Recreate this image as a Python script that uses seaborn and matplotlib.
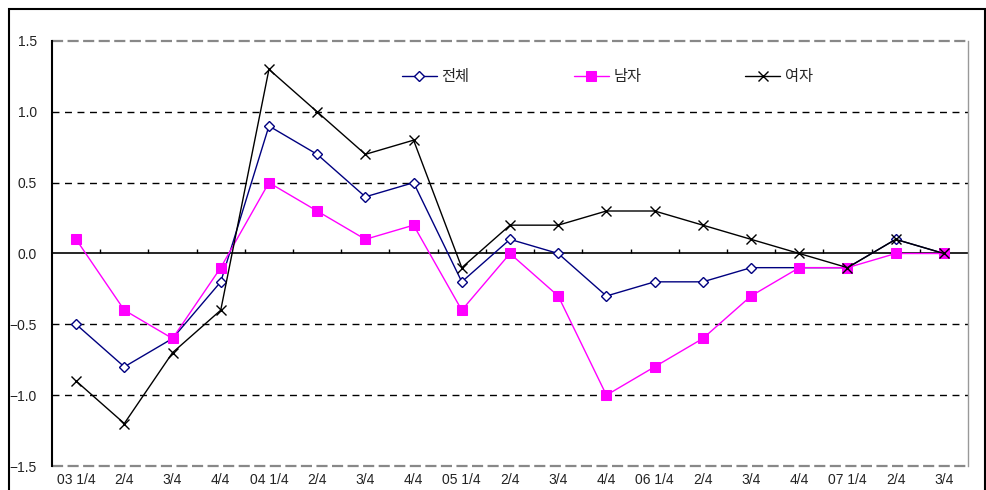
import numpy as np
import pandas as pd
import matplotlib
matplotlib.use("Agg")
import matplotlib.pyplot as plt
from matplotlib.patches import Rectangle
import seaborn as sns

categories = ["03 1/4", "2/4", "3/4", "4/4", "04 1/4", "2/4", "3/4", "4/4",
              "05 1/4", "2/4", "3/4", "4/4", "06 1/4", "2/4", "3/4", "4/4",
              "07 1/4", "2/4", "3/4"]
total = [-0.5, -0.8, -0.6, -0.2, 0.9, 0.7, 0.4, 0.5, -0.2, 0.1, 0.0, -0.3,
         -0.2, -0.2, -0.1, -0.1, -0.1, 0.1, 0.0]
male = [0.1, -0.4, -0.6, -0.1, 0.5, 0.3, 0.1, 0.2, -0.4, 0.0, -0.3, -1.0,
        -0.8, -0.6, -0.3, -0.1, -0.1, 0.0, 0.0]
female = [-0.9, -1.2, -0.7, -0.4, 1.3, 1.0, 0.7, 0.8, -0.1, 0.2, 0.2, 0.3,
          0.3, 0.2, 0.1, 0.0, -0.1, 0.1, 0.0]
series_names = ["전체", "남자", "여자"]
y_ticks = [1.5, 1.0, 0.5, 0.0, -0.5, -1.0, -1.5]

sns.set_theme(style="white")
plt.rcParams["font.family"] = ["Liberation Sans", "Noto Sans CJK KR", "DejaVu Sans"]
plt.rcParams["axes.unicode_minus"] = True

fig = plt.figure(figsize=(9.87, 4.90), dpi=100)
ax = fig.add_axes([52/987, 1 - 466/490, (968 - 52)/987, (466 - 41)/490])

x = np.arange(len(categories))
df = pd.DataFrame({"x": x, "전체": total, "남자": male, "여자": female})

styles = {
    "전체": dict(color="#000080", marker="D", markersize=5, markerfacecolor="white",
               markeredgecolor="#000080", markeredgewidth=1.0),
    "남자": dict(color="#FF00FF", marker="s", markersize=6.5, markerfacecolor="#FF00FF",
               markeredgecolor="#FF00FF"),
    "여자": dict(color="black", marker="x", markersize=6.5, markeredgewidth=1.0,
               markeredgecolor="black"),
}

# gridlines
for yv in [1.0, 0.5, -0.5, -1.0]:
    ax.axhline(yv, color="black", lw=1.0, ls=(0, (5, 4)), zorder=1)
for yv in [1.5, -1.5]:
    ax.axhline(yv, color="#888888", lw=1.6, ls=(0, (5, 2)), zorder=1, clip_on=False)
ax.axhline(0, color="black", lw=1.2, zorder=2)
ax.vlines(np.arange(0.5, len(categories) - 1, 1), 0, 0.03, color="black", lw=1.0, zorder=2)

for name in series_names:
    sns.lineplot(data=df, x="x", y=name, ax=ax, label=name, lw=1.0, zorder=3, **styles[name])

ax.set_xlim(-0.5, len(categories) - 0.5)
ax.set_ylim(-1.5, 1.5)
ax.set_xticks(x)
ax.set_xticklabels(categories)
ax.set_yticks(y_ticks)
ax.set_yticklabels([f"{v:.1f}".replace("-", "\u2212") for v in y_ticks])
ax.set_xlabel("")
ax.set_ylabel("")
ax.tick_params(axis="both", length=0, labelsize=10, colors="#222222")
ax.tick_params(axis="y", pad=11)
ax.tick_params(axis="x", pad=5)

ax.spines["top"].set_visible(False)
ax.spines["bottom"].set_visible(False)
ax.spines["left"].set_color("black")
ax.spines["left"].set_linewidth(1.5)
ax.spines["right"].set_color("#999999")
ax.spines["right"].set_linewidth(1.0)

leg = ax.legend(loc="upper left", bbox_to_anchor=(0.367, 0.968), ncol=3, frameon=False,
                handlelength=2.3, handletextpad=0.3, columnspacing=6.8,
                prop={"family": ["Noto Sans CJK KR"], "size": 11})

fig.patches.append(Rectangle((9/987, -0.1), (985 - 9)/987, 1.1 - 9/490,
                             transform=fig.transFigure, fill=False,
                             edgecolor="black", lw=1.5))

fig.savefig("out.png", dpi=100)
